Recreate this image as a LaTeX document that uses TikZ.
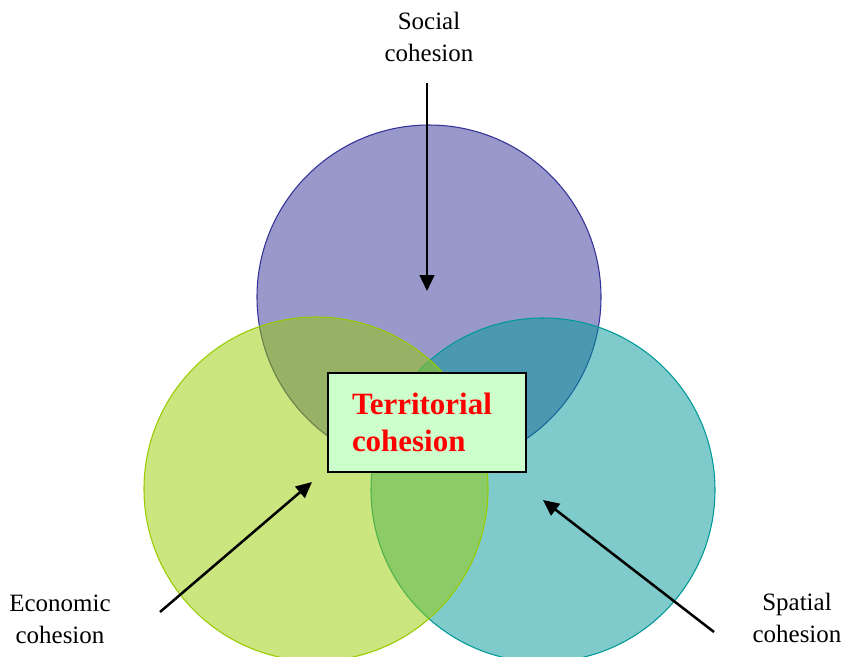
\documentclass[tikz,border=0pt]{standalone}
\usepackage{fontspec}
\setmainfont{Liberation Serif}
\usepackage{xcolor}
\usetikzlibrary{positioning,arrows.meta}
\definecolor{socialc}{HTML}{333399}
\definecolor{econc}{HTML}{99CC00}
\definecolor{spatialc}{HTML}{009999}
\definecolor{boxfill}{HTML}{CCFFCC}
\tikzset{
set/.style={
draw,
line width=0.8pt,
fill opacity=0.5
},
label/.style={
align=center,
font=\fontsize{18.8}{24}\selectfont,
inner sep=0pt
},
core/.style={
draw,
line width=1.6pt,
fill=boxfill,
inner xsep=18bp,
text width=112.5bp,
minimum height=74bp,
align=left,
text=red,
font=\fontsize{23.3}{28}\selectfont\bfseries
},
arrow/.style={
-{Triangle[length=12pt,width=11pt]},
line width=1.9pt
}
}

\begin{document}
\begin{tikzpicture}[x=0.75bp,y=-0.75bp]

\useasboundingbox (0,0) rectangle (843,657);
\clip (0,0) rectangle (843,657);

\fill[white] (0,0) rectangle (843,657);

\draw[set,draw=socialc,fill=socialc] (429,297) circle[radius=172];
\draw[set,draw=spatialc,fill=spatialc] (543,490) circle[radius=172];
\draw[set,draw=econc,fill=econc] (316,489) circle[radius=172];

\node[core](tc) at (427,422.5){Territorial\\cohesion};

\node[label](soc) at (429,37){Social\\cohesion};
\node[label](eco) at (60,619){Economic\\cohesion};
\node[label](spa) at (797,618){Spatial\\cohesion};

\coordinate (socS) at (427,83);
\coordinate (socT) at (427,291);
\coordinate (ecoS) at (160,612);
\coordinate (ecoT) at (312,482);
\coordinate (spaS) at (714,632);
\coordinate (spaT) at (543,500);

\foreach \x/\y in {socS/socT,ecoS/ecoT,spaS/spaT}
\draw[arrow](\x)--(\y);

\end{tikzpicture}
\end{document}
